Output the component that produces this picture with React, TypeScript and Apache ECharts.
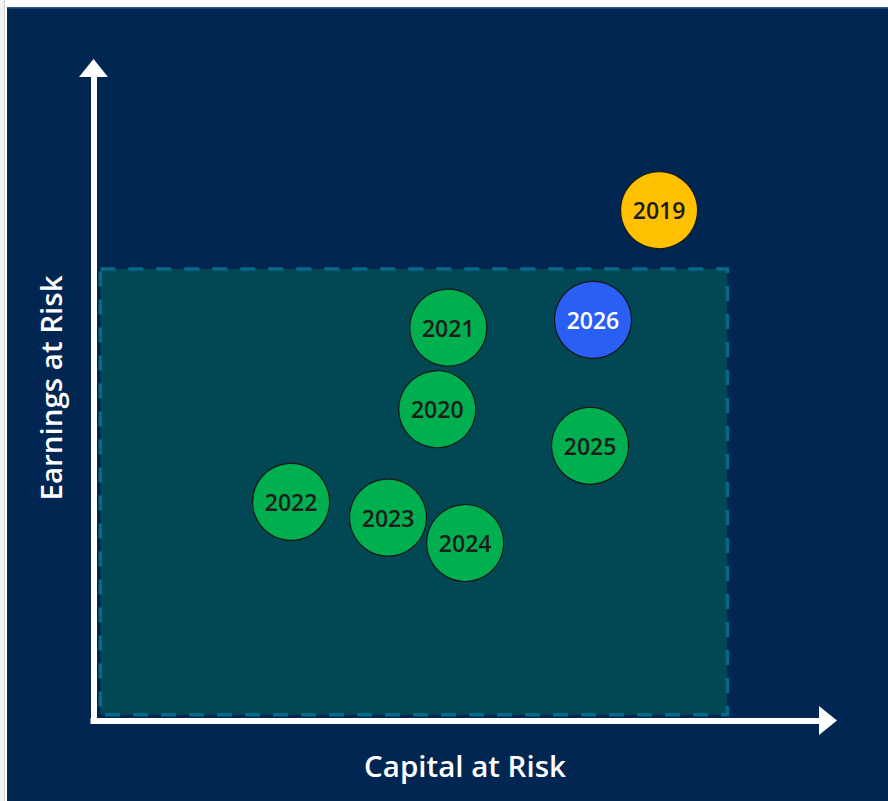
import React, { useEffect, useRef } from "react";
import * as echarts from "echarts";

const years = ["2019", "2020", "2021", "2022", "2023", "2024", "2025", "2026"];
const capitalAtRisk = [77.0, 46.8, 48.3, 26.9, 40.1, 50.6, 67.6, 68.0];
const earningsAtRisk = [78.2, 47.7, 60.2, 33.5, 31.1, 27.2, 42.1, 61.4];
const status = ["breach", "within", "within", "within", "within", "within", "within", "forecast"];
const thresholdX = [0.93, 86.3];
const thresholdY = [0.89, 69.2];
const xTitle = "Capital at Risk";
const yTitle = "Earnings at Risk";

const statusColor: Record<string, string> = {
  breach: "#ffc000",
  within: "#00b050",
  forecast: "#2a5ff5",
};
const statusText: Record<string, string> = {
  breach: "#1c1c1c",
  within: "#1c1c1c",
  forecast: "#ffffff",
};

export default function App() {
  const ref = useRef<HTMLDivElement>(null);
  useEffect(() => {
    if (!ref.current) return;
    const chart = echarts.init(ref.current, null, { renderer: "svg" });
    const font = "'Open Sans', 'Noto Sans', sans-serif";
    chart.setOption({
      animation: false,
      backgroundColor: "#022652",
      grid: { left: 86.5, top: 61, right: 60, bottom: 80.5 },
      xAxis: {
        type: "value",
        min: 0,
        max: 100,
        axisLabel: { show: false },
        axisTick: { show: false },
        splitLine: { show: false },
        axisLine: {
          show: true,
          symbol: ["none", "triangle"],
          symbolSize: [29, 18],
          lineStyle: { color: "#ffffff", width: 6, cap: "square" },
        },
      },
      yAxis: {
        type: "value",
        min: 0,
        max: 100,
        axisLabel: { show: false },
        axisTick: { show: false },
        splitLine: { show: false },
        axisLine: {
          show: true,
          symbol: ["none", "triangle"],
          symbolSize: [29, 18],
          lineStyle: { color: "#ffffff", width: 6, cap: "square" },
        },
      },
      graphic: [
        {
          type: "rect",
          shape: { x: 0, y: 0, width: 881, height: 1.5 },
          style: { fill: "#2b5885" },
          silent: true,
        },
        {
          type: "text",
          x: 458,
          y: 758,
          style: {
            text: xTitle,
            fill: "#ffffff",
            font: `600 29.5px ${font}`,
            textAlign: "center",
            textVerticalAlign: "middle",
          },
        },
        {
          type: "text",
          x: 43,
          y: 381,
          rotation: Math.PI / 2,
          style: {
            text: yTitle,
            fill: "#ffffff",
            font: `600 29.5px ${font}`,
            textAlign: "center",
            textVerticalAlign: "middle",
          },
        },
      ],
      series: [
        {
          type: "scatter",
          symbolSize: 77,
          z: 3,
          data: years.map((y, i) => ({
            name: y,
            value: [capitalAtRisk[i], earningsAtRisk[i]],
            itemStyle: {
              color: statusColor[status[i]],
              borderColor: "#161616",
              borderWidth: 1.2,
              opacity: 1,
            },
            label: { color: statusText[status[i]] },
          })),
          label: {
            show: true,
            position: "inside",
            formatter: (p: any) => p.name,
            fontFamily: font,
            fontSize: 23,
            fontWeight: 600,
          },
          markArea: {
            silent: true,
            z: 1,
            itemStyle: {
              color: "#014854",
              borderColor: "#08688a",
              borderWidth: 3.5,
              borderType: [15, 13],
              opacity: 1,
            },
            data: [
              [
                { coord: [thresholdX[0], thresholdY[1]] },
                { coord: [thresholdX[1], thresholdY[0]] },
              ],
            ],
          },
        },
      ],
    });
    return () => chart.dispose();
  }, []);
  return (
    <div style={{ position: "absolute", left: 0, top: 0, width: 888, height: 801, background: "#fff", overflow: "hidden" }}>
      <div style={{ position: "absolute", left: 0, top: 0, width: 4, height: 801, background: "#f2f2f2", borderRight: "1px solid #d4d4d4" }} />
      <div ref={ref} style={{ position: "absolute", left: 7, top: 7, width: 881, height: 794 }} />
    </div>
  );
}
